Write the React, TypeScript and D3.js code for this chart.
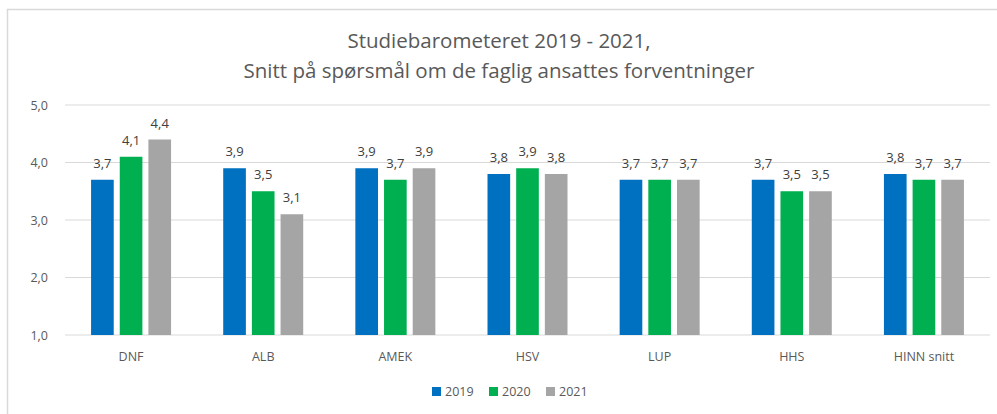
import React, { useEffect, useRef } from 'react';
import * as d3 from 'd3';

const categories = ['DNF', 'ALB', 'AMEK', 'HSV', 'LUP', 'HHS', 'HINN snitt'];
const years = ['2019', '2020', '2021'];
const values2019 = [3.7, 3.9, 3.9, 3.8, 3.7, 3.7, 3.8];
const values2020 = [4.1, 3.5, 3.7, 3.9, 3.7, 3.5, 3.7];
const values2021 = [4.4, 3.1, 3.9, 3.8, 3.7, 3.5, 3.7];
const yTicks = [1, 2, 3, 4, 5];
const titleLines = ['Studiebarometeret 2019 - 2021,', 'Snitt på spørsmål om de faglig ansattes forventninger'];

const colors = ['#0070C0', '#00B050', '#A5A5A5'];
const W = 997, H = 414;
const font = "'Open Sans', 'Liberation Sans', sans-serif";

export default function App() {
  const ref = useRef<SVGSVGElement>(null);

  useEffect(() => {
    const svg = d3.select(ref.current);
    svg.selectAll('*').remove();
    const series = [values2019, values2020, values2021];
    const fmt = (v: number) => d3.format('.1f')(v).replace('.', ',');

    // chart frame
    svg.append('rect')
      .attr('x', 7.5).attr('y', 9.5)
      .attr('width', W).attr('height', H)
      .attr('fill', '#fff').attr('stroke', '#D9D9D9').attr('stroke-width', 1.5);

    svg.append('g')
      .attr('font-family', font)
      .attr('font-size', 20.5)
      .attr('fill', '#595959')
      .attr('text-anchor', 'middle')
      .selectAll('text')
      .data(titleLines)
      .join('text')
      .attr('x', 499)
      .attr('y', (d, i) => 48 + i * 30)
      .text(d => d);

    const x0 = d3.scaleBand().domain(categories).range([65, 990]).paddingInner(0).paddingOuter(0);
    const x1 = d3.scaleBand().domain(years).range([0, 80]).paddingInner(0.21).paddingOuter(0);
    const y = d3.scaleLinear().domain([1, 5]).range([335, 105]);

    // grid
    svg.append('g')
      .selectAll('line')
      .data(yTicks)
      .join('line')
      .attr('x1', 65).attr('x2', 990)
      .attr('y1', d => y(d)).attr('y2', d => y(d))
      .attr('stroke', '#D9D9D9').attr('stroke-width', 1.2);

    svg.append('g')
      .attr('font-family', font)
      .attr('font-size', 12.5)
      .attr('fill', '#595959')
      .attr('text-anchor', 'end')
      .selectAll('text')
      .data(yTicks)
      .join('text')
      .attr('x', 48)
      .attr('y', d => y(d) + 4.5)
      .text(d => fmt(d));

    const groups = svg.append('g')
      .selectAll('g')
      .data(categories)
      .join('g')
      .attr('transform', d => `translate(${(x0(d) as number) + (x0.bandwidth() - 80) / 2},0)`);

    groups.selectAll('rect')
      .data((d, i) => series.map((s, j) => ({ year: years[j], value: s[i], j })))
      .join('rect')
      .attr('x', d => x1(d.year) as number)
      .attr('width', x1.bandwidth())
      .attr('y', d => y(d.value))
      .attr('height', d => y(1) - y(d.value))
      .attr('fill', d => colors[d.j]);

    groups.selectAll('text')
      .data((d, i) => series.map((s, j) => ({ year: years[j], value: s[i], j })))
      .join('text')
      .attr('x', d => (x1(d.year) as number) + x1.bandwidth() / 2)
      .attr('y', d => y(d.value) - 12)
      .attr('text-anchor', 'middle')
      .attr('font-family', font)
      .attr('font-size', 13)
      .attr('fill', '#404040')
      .text(d => fmt(d.value));

    svg.append('g')
      .attr('font-family', font)
      .attr('font-size', 12.5)
      .attr('fill', '#595959')
      .attr('text-anchor', 'middle')
      .selectAll('text')
      .data(categories)
      .join('text')
      .attr('x', d => (x0(d) as number) + x0.bandwidth() / 2)
      .attr('y', 361)
      .text(d => d);

    // legend
    const legend = svg.append('g')
      .selectAll('g')
      .data(years)
      .join('g')
      .attr('transform', (d, i) => `translate(${432 + i * 57},0)`);
    legend.append('rect')
      .attr('x', 0).attr('y', 387)
      .attr('width', 9).attr('height', 9)
      .attr('fill', (d, i) => colors[i]);
    legend.append('text')
      .attr('x', 13).attr('y', 396)
      .attr('font-family', font)
      .attr('font-size', 12.5)
      .attr('fill', '#595959')
      .text(d => d);
  }, []);

  return (
    <div style={{ position: 'absolute', left: 0, top: 0 }}>
      <svg ref={ref} width={W} height={H} style={{ display: 'block' }} />
    </div>
  );
}
